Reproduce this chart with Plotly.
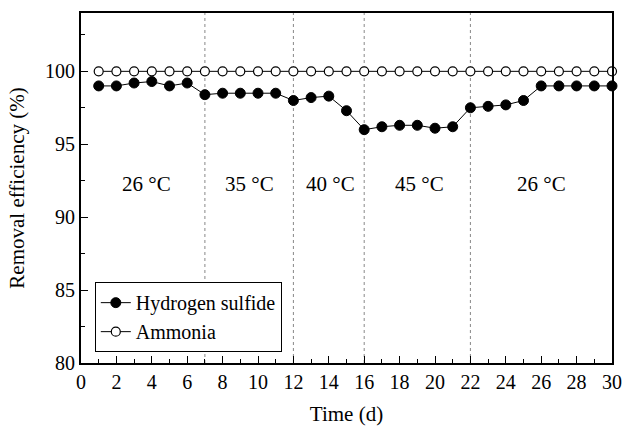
import plotly.graph_objects as go

days = list(range(1, 31))
h2s = [99.0, 99.0, 99.2, 99.3, 99.0, 99.2, 98.4, 98.5, 98.5, 98.5,
       98.5, 98.0, 98.2, 98.3, 97.3, 96.0, 96.2, 96.3, 96.3, 96.1,
       96.2, 97.5, 97.6, 97.7, 98.0, 99.0, 99.0, 99.0, 99.0, 99.0]
nh3 = [100.0] * 30
phase_bounds = [7, 12, 16, 22]
phase_labels = ["26 °C", "35 °C", "40 °C", "45 °C", "26 °C"]
phase_label_x = [3.7, 9.5, 14.1, 19.1, 26.0]
phase_label_y = 92.3

FONT = "Liberation Serif"

fig = go.Figure()
fig.add_trace(go.Scatter(
    x=days, y=h2s, name="Hydrogen sulfide", mode="lines+markers",
    line=dict(color="black", width=1),
    marker=dict(symbol="circle", size=10, color="black", line=dict(color="black", width=1)),
    cliponaxis=False,
))
fig.add_trace(go.Scatter(
    x=days, y=nh3, name="Ammonia", mode="lines+markers",
    line=dict(color="black", width=1),
    marker=dict(symbol="circle", size=9, color="white", line=dict(color="black", width=1.2)),
    cliponaxis=False,
))

for b in phase_bounds:
    fig.add_shape(type="line", xref="x", yref="paper", x0=b, x1=b, y0=0, y1=1,
                  line=dict(color="#888888", width=1, dash="dot"), layer="below")

for lab, lx in zip(phase_labels, phase_label_x):
    fig.add_annotation(x=lx, y=phase_label_y, text=lab, showarrow=False,
                       font=dict(family=FONT, size=21, color="black"))

fig.update_layout(
    width=623, height=426,
    margin=dict(l=81, r=11, t=13, b=63, autoexpand=False),
    paper_bgcolor="white", plot_bgcolor="white",
    font=dict(family=FONT, size=20, color="black"),
    showlegend=True,
    legend=dict(x=0.026, y=0.231, xanchor="left", yanchor="top",
                bordercolor="black", borderwidth=1, bgcolor="white",
                font=dict(family=FONT, size=20), tracegroupgap=0,
                itemwidth=30),
)
fig.update_xaxes(
    range=[0, 30], tickmode="linear", tick0=0, dtick=2,
    ticks="inside", ticklen=7, tickwidth=1.2, tickcolor="black",
    minor=dict(dtick=1, ticks="inside", ticklen=4, tickwidth=1.2, tickcolor="black"),
    showline=True, linecolor="black", linewidth=1.8, mirror=True,
    showgrid=False, zeroline=False, automargin=False,
    title=dict(text="Time (d)", font=dict(family=FONT, size=21)),
    tickfont=dict(family=FONT, size=20),
)
fig.update_yaxes(
    range=[80, 104], tickmode="linear", tick0=80, dtick=5,
    ticks="inside", ticklen=7, tickwidth=1.2, tickcolor="black",
    minor=dict(dtick=2.5, ticks="inside", ticklen=4, tickwidth=1.2, tickcolor="black"),
    showline=True, linecolor="black", linewidth=1.8, mirror=True,
    showgrid=False, zeroline=False, automargin=False,
    title=dict(text="Removal efficiency (%)", font=dict(family=FONT, size=21)),
    tickfont=dict(family=FONT, size=20),
)

fig.write_html("out.html")
